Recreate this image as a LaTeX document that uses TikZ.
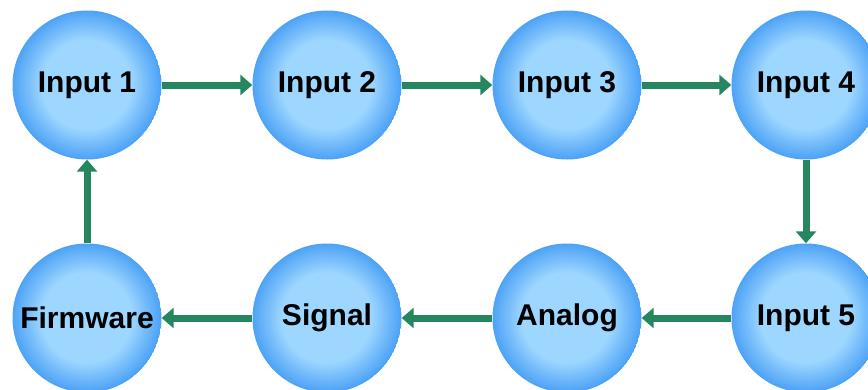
\documentclass[tikz,border=0pt]{standalone}
\usepackage{fontspec}
\setmainfont{Liberation Sans}
\usepackage{tikz}
\usetikzlibrary{arrows.meta}
\definecolor{bubblein}{RGB}{160,216,255}
\definecolor{bubbleout}{RGB}{78,163,246}
\definecolor{flowgreen}{RGB}{38,134,96}
\begin{document}
\begin{tikzpicture}[x=1pt, y=1pt]
		\tikzstyle{bubble}=[circle, minimum size=149pt, inner sep=0pt, font=\fontsize{30}{36}\selectfont\bfseries,
			path picture={
				\foreach \k in {0,...,24} {
					\pgfmathsetmacro{\rad}{74.5-1.2*\k}
					\pgfmathsetmacro{\mix}{4*\k}
					\fill[bubblein!\mix!bubbleout] (path picture bounding box.center) circle (\rad pt);
				}
			}]
		\tikzstyle{flow}=[-{Triangle[width=20pt,length=12pt]}, line width=7pt, flowgreen]

		\clip (0,0) rectangle (868,-389);

		% Draw circles
		\node[bubble] (in1) at (87,-85) {Input 1};
		\node[bubble] (in2) at (327,-85) {Input 2};
		\node[bubble] (in3) at (567,-85) {Input 3};
		\node[bubble] (in4) at (806,-85) {Input 4};
		\node[bubble] (in5) at (806,-318) {Input 5};
		\node[bubble] (analog) at (567,-318) {\raisebox{3pt}{Analog}};
		\node[bubble] (signal) at (327,-318) {Signal};
		\node[bubble] (firmware) at (87,-318) {Firmware};

		% Draw arrows
		\draw[flow] (in1) -- (in2);
		\draw[flow] (in2) -- (in3);
		\draw[flow] (in3) -- (in4);
		\draw[flow] (in4) -- (in5);
		\draw[flow] (in5) -- (analog);
		\draw[flow] (analog) -- (signal);
		\draw[flow] (signal) -- (firmware);
		\draw[flow] (firmware) -- (in1);

\end{tikzpicture}
\end{document}
